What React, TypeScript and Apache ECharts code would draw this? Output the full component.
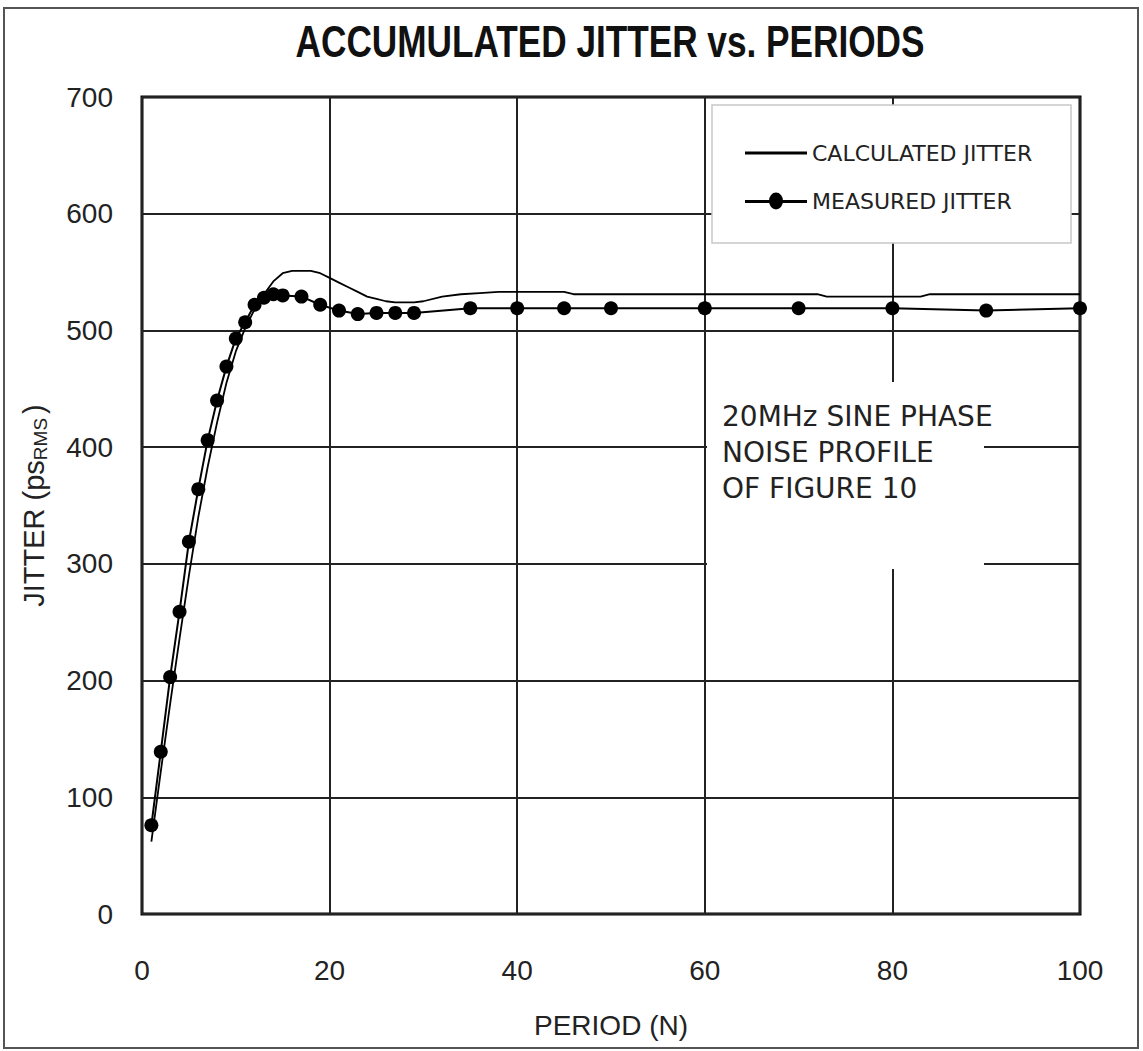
import React, { useEffect, useRef } from "react";
import * as echarts from "echarts";

const measuredPeriods = [1, 2, 3, 4, 5, 6, 7, 8, 9, 10, 11, 12, 13, 14, 15, 17, 19, 21, 23, 25, 27, 29, 35, 40, 45, 50, 60, 70, 80, 90, 100];
const measuredJitter = [76, 139, 203, 259, 319, 364, 406, 440, 469, 493, 507, 522, 528, 531, 530, 529, 522, 517, 514, 515, 515, 515, 519, 519, 519, 519, 519, 519, 519, 517, 519];

const calcPeriods = [1, 2, 3, 4, 5, 6, 7, 8, 9, 10, 11, 12, 13, 14, 15, 16, 17, 18, 19, 20, 21, 22, 23, 24, 25, 26, 27, 28, 29, 30, 32, 34, 36, 38, 45, 46, 72, 73, 83, 84, 100];
const calcJitter = [62, 122, 180, 236, 290, 340, 383, 421, 455, 482, 502, 518, 531, 542, 549, 551, 551, 551, 549, 545, 541, 537, 533, 529, 527, 525, 524, 524, 524, 525, 529, 531, 532, 533, 533, 531, 531, 529, 529, 531, 531];

const xTicks = { min: 0, max: 100, interval: 20 };
const yTicks = { min: 0, max: 700, interval: 100 };

const seriesNames = ["CALCULATED JITTER", "MEASURED JITTER"];
const titleText = "ACCUMULATED JITTER vs. PERIODS";
const noteText = "20MHz SINE PHASE\nNOISE PROFILE\nOF FIGURE 10";

export default function App() {
  const ref = useRef<HTMLDivElement>(null);
  useEffect(() => {
    if (!ref.current) return;
    const chart = echarts.init(ref.current, undefined, { renderer: "svg" });
    const axisFont = "'Liberation Sans', Arial, sans-serif";
    chart.setOption({
      animation: false,
      backgroundColor: "#fff",
      grid: {
        left: 142,
        top: 97,
        right: 63,
        bottom: 137,
        show: true,
        borderColor: "#000",
        borderWidth: 3,
        backgroundColor: "transparent",
      },
      xAxis: {
        type: "value",
        min: xTicks.min,
        max: xTicks.max,
        interval: xTicks.interval,
        name: "PERIOD (N)",
        nameLocation: "middle",
        nameGap: 97,
        nameTextStyle: { fontSize: 28, color: "#222", fontFamily: axisFont },
        axisLine: { show: false },
        axisTick: { show: false },
        axisLabel: { margin: 42, fontSize: 28, color: "#222", fontFamily: axisFont },
        splitLine: { show: true, lineStyle: { color: "#222", width: 2 } },
      },
      yAxis: {
        type: "value",
        min: yTicks.min,
        max: yTicks.max,
        interval: yTicks.interval,
        name: "JITTER (ps{sub|RMS})",
        nameLocation: "middle",
        nameGap: 92,
        nameRotate: 90,
        nameTextStyle: {
          fontSize: 29,
          color: "#222",
          fontFamily: axisFont,
          rich: {
            sub: { fontSize: 19, color: "#222", fontFamily: axisFont, verticalAlign: "bottom", padding: [13, 4, 0, 0] },
          },
        },
        axisLine: { show: false },
        axisTick: { show: false },
        axisLabel: { margin: 29, fontSize: 28, color: "#222", fontFamily: axisFont },
        splitLine: { show: true, lineStyle: { color: "#222", width: 2 } },
      },
      legend: {
        orient: "vertical",
        left: 740,
        top: 137,
        padding: 5,
        itemWidth: 62,
        itemHeight: 18,
        itemGap: 26,
        data: [
          { name: seriesNames[0], icon: "path://M0,0h62v3h-62z" },
          { name: seriesNames[1], icon: "path://M0,8h62v3h-62z M31,0.5a7,8.5 0 1,1 0,17a7,8.5 0 1,1 0,-17z" },
        ],
        textStyle: { fontSize: 22, color: "#222", fontFamily: "'DejaVu Sans', Verdana, sans-serif" },
        z: 5,
      },
      graphic: [
        {
          type: "rect",
          z: 1,
          shape: { x: 4, y: 8, width: 1134, height: 1040 },
          style: { fill: "none", stroke: "#555", lineWidth: 2 },
        },
        {
          type: "rect",
          z: 1,
          shape: { x: 712, y: 105, width: 359, height: 138 },
          style: { fill: "#fff", stroke: "#c8c8c8", lineWidth: 1.5 },
        },
        {
          type: "rect",
          z: 1,
          shape: { x: 707, y: 382, width: 277, height: 187 },
          style: { fill: "#fff" },
        },
        {
          type: "text",
          z: 2,
          x: 722,
          y: 398,
          style: {
            text: noteText,
            fontSize: 28,
            lineHeight: 36,
            fill: "#222",
            fontFamily: "'DejaVu Sans', Verdana, sans-serif",
            textVerticalAlign: "top",
          },
        },
        {
          type: "text",
          z: 2,
          x: 610,
          y: 42,
          scaleX: 0.8,
          style: {
            text: titleText,
            fontSize: 44,
            fontWeight: "bold",
            fill: "#111",
            fontFamily: axisFont,
            align: "center",
            verticalAlign: "middle",
          },
        },
      ],
      series: [
        {
          name: seriesNames[0],
          type: "line",
          data: calcPeriods.map((p, i) => [p, calcJitter[i]]),
          symbol: "none",
          lineStyle: { color: "#000", width: 1.8 },
          itemStyle: { color: "#000" },
          z: 3,
        },
        {
          name: seriesNames[1],
          type: "line",
          data: measuredPeriods.map((p, i) => [p, measuredJitter[i]]),
          symbol: "circle",
          symbolSize: 14,
          lineStyle: { color: "#000", width: 2 },
          itemStyle: { color: "#000" },
          z: 4,
        },
      ],
    });
    return () => chart.dispose();
  }, []);
  return <div ref={ref} style={{ position: "absolute", left: 0, top: 0, width: 1143, height: 1051 }} />;
}
